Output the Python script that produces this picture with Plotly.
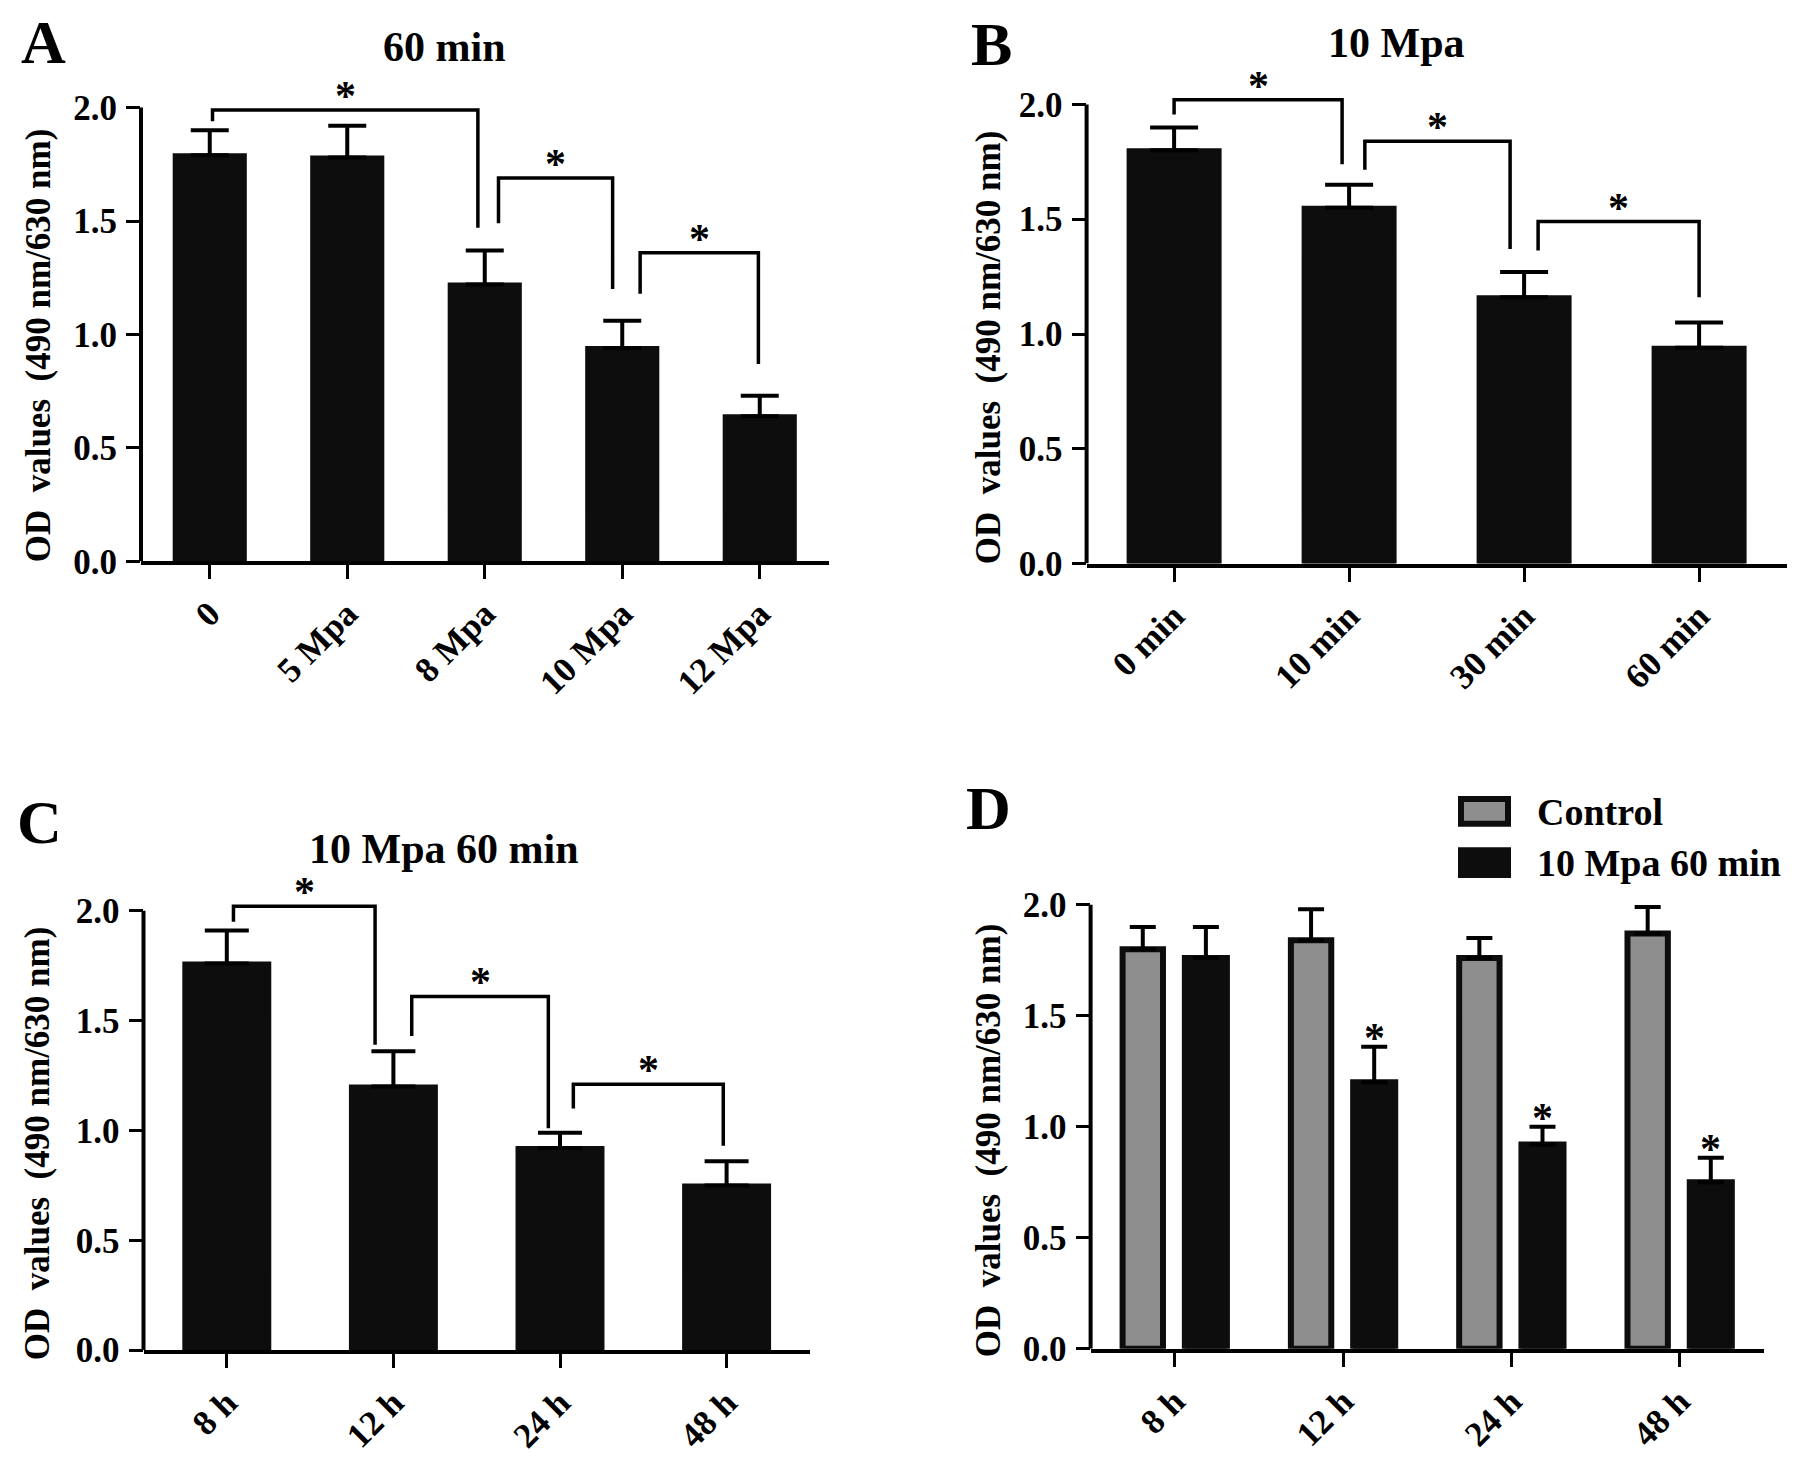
import plotly.graph_objects as go

W, H = 1795, 1460
FONT = "Liberation Serif"
BLACK = "#0d0d0d"
GREY = "#8e8e8e"

# ---------------- data ----------------
A_cats = ["0", "5 Mpa", "8 Mpa", "10 Mpa", "12 Mpa"]
A_mean = [1.79, 1.78, 1.22, 0.94, 0.64]
A_err = [0.11, 0.14, 0.15, 0.12, 0.09]
A_br_left = [0.02, 2.10, 3.13]
A_br_right = [1.95, 2.93, 3.99]
A_br_top = [1.99, 1.69, 1.36]
A_br_left_end = [1.94, 1.49, 1.18]
A_br_right_end = [1.47, 1.20, 0.87]

B_cats = ["0 min", "10 min", "30 min", "60 min"]
B_mean = [1.80, 1.55, 1.16, 0.94]
B_err = [0.10, 0.10, 0.11, 0.11]
B_br_left = [0.0, 1.09, 2.08]
B_br_right = [0.96, 1.92, 3.0]
B_br_top = [2.02, 1.84, 1.49]
B_br_left_end = [1.956, 1.716, 1.364]
B_br_right_end = [1.74, 1.37, 1.16]

C_cats = ["8 h", "12 h", "24 h", "48 h"]
C_mean = [1.76, 1.20, 0.92, 0.75]
C_err = [0.15, 0.16, 0.07, 0.11]
C_br_left = [0.04, 1.11, 2.08]
C_br_right = [0.89, 1.93, 2.98]
C_br_top = [2.02, 1.61, 1.21]
C_br_left_end = [1.95, 1.43, 1.10]
C_br_right_end = [1.39, 1.01, 0.93]

D_cats = ["8 h", "12 h", "24 h", "48 h"]
D_ctrl = [1.80, 1.84, 1.76, 1.87]
D_ctrl_err = [0.10, 0.14, 0.09, 0.12]
D_trt = [1.76, 1.20, 0.92, 0.75]
D_trt_err = [0.14, 0.16, 0.08, 0.11]
D_star = [False, True, True, True]
D_names = ["Control", "10 Mpa 60 min"]

Y_TICKS = [0.0, 0.5, 1.0, 1.5, 2.0]
Y_TITLE = "OD\u00a0\u00a0values\u00a0\u00a0(490 nm/630 nm)"
PANEL_TITLES = ["60 min", "10 Mpa", "10 Mpa 60 min"]
PANEL_LETTERS = ["A", "B", "C", "D"]

# ---------------- layout geometry (pixels) ----------------
YMAX = 2.25


def xdom(left_px, right_px):
    return [left_px / W, right_px / W]


def ydom(zero_px, two_px):
    per = (zero_px - two_px) / 2.0
    top = zero_px - YMAX * per
    return [1 - zero_px / H, 1 - top / H]


def px(x):
    return x / W


def py(y):
    return 1 - y / H


geo = {
    "A": dict(x=xdom(133.0, 820.5), y=ydom(561.0, 101.0), n=5),
    "B": dict(x=xdom(1078.6, 1778.6), y=ydom(563.3, 97.8), n=4),
    "C": dict(x=xdom(135.5, 801.9), y=ydom(1360.8, 915.3), n=4),
    "D": dict(x=xdom(1082.6, 1755.8), y=ydom(1359.4, 909.2), n=4),
}
axis_ids = {"A": ("x", "y"), "B": ("x2", "y2"), "C": ("x3", "y3"), "D": ("x4", "y4")}
cats = {"A": A_cats, "B": B_cats, "C": C_cats, "D": D_cats}

fig = go.Figure()


def err(arr, half):
    return dict(type="data", array=arr, arrayminus=[0] * len(arr), symmetric=False,
                color="black", thickness=4, width=half, visible=True)


# ---------------- traces ----------------
solid = dict(color=BLACK, line=dict(width=4, color=BLACK))
fig.add_trace(go.Bar(x=list(range(len(A_cats))), y=A_mean, width=0.51, marker=solid,
                     error_y=err(A_err, 19), xaxis="x", yaxis="y", name="60 min"))
fig.add_trace(go.Bar(x=list(range(len(B_cats))), y=B_mean, width=0.52, marker=solid,
                     error_y=err(B_err, 24), xaxis="x2", yaxis="y2", name="10 Mpa"))
fig.add_trace(go.Bar(x=list(range(len(C_cats))), y=C_mean, width=0.51, marker=solid,
                     error_y=err(C_err, 22), xaxis="x3", yaxis="y3", name="10 Mpa 60 min"))
fig.add_trace(go.Bar(x=list(range(len(D_cats))), y=D_ctrl, width=0.24, offset=-0.31,
                     marker=dict(color=GREY, line=dict(width=6, color=BLACK)),
                     error_y=err(D_ctrl_err, 13), xaxis="x4", yaxis="y4", name=D_names[0]))
fig.add_trace(go.Bar(x=list(range(len(D_cats))), y=D_trt, width=0.25, offset=0.06,
                     marker=dict(color=BLACK, line=dict(width=6, color=BLACK)),
                     error_y=err(D_trt_err, 13), xaxis="x4", yaxis="y4", name=D_names[1]))

# ---------------- axes ----------------
layout_axes = {}
for key, (xa, ya) in axis_ids.items():
    g = geo[key]
    xname = "xaxis" if xa == "x" else "xaxis" + xa[1:]
    yname = "yaxis" if ya == "y" else "yaxis" + ya[1:]
    layout_axes[xname] = dict(
        domain=g["x"], anchor=ya, range=[-0.5, g["n"] - 0.5],
        tickmode="array", tickvals=list(range(g["n"])), ticktext=cats[key],
        tickangle=-45, ticks="outside", ticklen=14, tickwidth=3, tickcolor="black",
        showline=True, linewidth=4, linecolor="black", showgrid=False, zeroline=False,
        tickfont=dict(family=FONT, size=35, color="black", weight="bold"),
        ticklabelstandoff=0, fixedrange=True,
    )
    layout_axes[yname] = dict(
        domain=g["y"], anchor=xa, range=[0, YMAX],
        tickmode="array", tickvals=Y_TICKS, tickformat=".1f",
        ticks="outside", ticklen=14, tickwidth=3, tickcolor="black",
        showline=False, showgrid=False, zeroline=False,
        tickfont=dict(family=FONT, size=35, color="black", weight="bold"),
        ticklabelstandoff=2, fixedrange=True,
    )

shapes = []
annotations = []

# y axis lines (stop at the top tick, like the original)
for key, (xa, ya) in axis_ids.items():
    shapes.append(dict(type="line", xref=xa + " domain", yref=ya, x0=0, x1=0,
                       y0=0, y1=max(Y_TICKS), line=dict(color="black", width=4)))

# brackets with asterisks
brackets = {
    "A": (A_br_left, A_br_right, A_br_top, A_br_left_end, A_br_right_end),
    "B": (B_br_left, B_br_right, B_br_top, B_br_left_end, B_br_right_end),
    "C": (C_br_left, C_br_right, C_br_top, C_br_left_end, C_br_right_end),
}
for key, (L, R, T, LE, RE) in brackets.items():
    xa, ya = axis_ids[key]
    for l, r, t, le, re in zip(L, R, T, LE, RE):
        shapes.append(dict(type="path", xref=xa, yref=ya,
                           path=f"M {l},{le} L {l},{t} L {r},{t} L {r},{re}",
                           line=dict(color="black", width=3.5)))
        annotations.append(dict(x=(l + r) / 2, y=t, xref=xa, yref=ya, text="*",
                                showarrow=False, yanchor="middle", yshift=14,
                                font=dict(family=FONT, size=42, color="black", weight="bold")))

# asterisks in D above treated bars
for i, s in enumerate(D_star):
    if s:
        annotations.append(dict(x=i + 0.06 + 0.25 / 2, y=D_trt[i] + D_trt_err[i], xref="x4", yref="y4",
                                text="*", showarrow=False, yanchor="middle", yshift=9,
                                font=dict(family=FONT, size=42, color="black", weight="bold")))

# panel titles
title_pos = [(436, 40), (1388, 35), (436, 853)]
for t, (tx, ty) in zip(PANEL_TITLES, title_pos):
    annotations.append(dict(x=px(tx), y=py(ty), xref="paper", yref="paper", text=t,
                            showarrow=False, xanchor="center", yanchor="middle",
                            font=dict(family=FONT, size=42, color="black", weight="bold")))

# panel letters
letter_pos = [(35, 34), (983, 37), (31, 825), (980, 811)]
for t, (tx, ty) in zip(PANEL_LETTERS, letter_pos):
    annotations.append(dict(x=px(tx), y=py(ty), xref="paper", yref="paper", text=t,
                            showarrow=False, xanchor="center", yanchor="middle",
                            font=dict(family=FONT, size=62, color="black", weight="bold")))

# y axis titles
ytitle_pos = [(30, 342), (980, 344), (29, 1151), (980, 1148)]
for (tx, ty) in ytitle_pos:
    annotations.append(dict(x=px(tx), y=py(ty), xref="paper", yref="paper", text=Y_TITLE,
                            showarrow=False, textangle=-90, xanchor="center", yanchor="middle",
                            font=dict(family=FONT, size=35, color="black", weight="bold")))

# legend for D (drawn as boxes + text)
leg_boxes = [(1453, 802, 1500, 827, GREY), (1453, 854, 1500, 879, BLACK)]
leg_text_y = [815, 867]
for (x0, y0, x1, y1, col), name, ty in zip(leg_boxes, D_names, leg_text_y):
    shapes.append(dict(type="rect", xref="paper", yref="paper",
                       x0=px(x0), x1=px(x1), y0=py(y1), y1=py(y0),
                       fillcolor=col, line=dict(color=BLACK, width=6)))
    annotations.append(dict(x=px(1527), y=py(ty), xref="paper", yref="paper", text=name,
                            showarrow=False, xanchor="left", yanchor="middle",
                            font=dict(family=FONT, size=38, color="black", weight="bold")))

fig.update_layout(
    width=W, height=H, margin=dict(l=0, r=0, t=0, b=0),
    paper_bgcolor="white", plot_bgcolor="white",
    barmode="overlay", showlegend=False,
    font=dict(family=FONT, color="black"),
    shapes=shapes, annotations=annotations,
    **layout_axes,
)

fig.write_html("out.html")
